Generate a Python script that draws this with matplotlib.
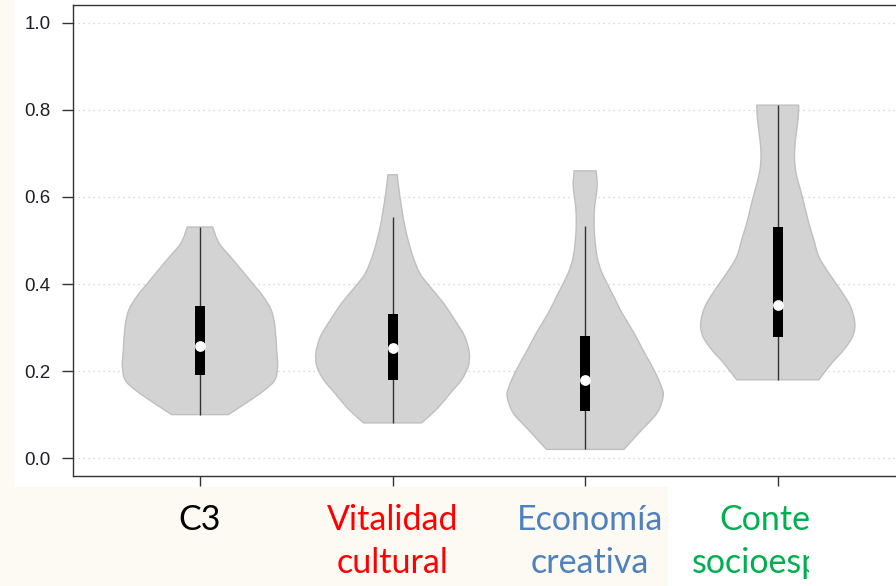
import numpy as np
import matplotlib.pyplot as plt
from matplotlib.patches import Rectangle, PathPatch
from matplotlib.path import Path

# categories and label colours
labels = ["C3", "Vitalidad\ncultural", "Economía\ncreativa", "Contexto\nsocioespacial"]
label_colors = ["#000000", "#ff0000", "#4f81bd", "#00b050"]

# violin outlines: value levels and half widths (in category units)
v1_y = [0.531, 0.494, 0.456, 0.403, 0.372, 0.341, 0.303, 0.249, 0.211, 0.180, 0.157, 0.128, 0.100]
v1_w = [0.066, 0.099, 0.171, 0.270, 0.327, 0.369, 0.389, 0.398, 0.403, 0.389, 0.337, 0.244, 0.147]
v2_y = [0.651, 0.601, 0.532, 0.472, 0.426, 0.395, 0.357, 0.318, 0.280, 0.242, 0.211, 0.180, 0.150, 0.112, 0.081]
v2_w = [0.024, 0.038, 0.064, 0.099, 0.140, 0.192, 0.263, 0.322, 0.374, 0.398, 0.393, 0.358, 0.301, 0.228, 0.150]
v3_y = [0.660, 0.624, 0.570, 0.517, 0.463, 0.425, 0.379, 0.333, 0.288, 0.242, 0.203, 0.165, 0.142, 0.104, 0.066, 0.020]
v3_w = [0.057, 0.062, 0.048, 0.048, 0.062, 0.088, 0.140, 0.192, 0.253, 0.308, 0.357, 0.395, 0.405, 0.374, 0.296, 0.201]
v4_y = [0.811, 0.777, 0.731, 0.693, 0.655, 0.616, 0.578, 0.540, 0.502, 0.463, 0.425, 0.387, 0.349, 0.311, 0.280, 0.249, 0.219, 0.180]
v4_w = [0.109, 0.105, 0.092, 0.087, 0.095, 0.118, 0.140, 0.161, 0.187, 0.213, 0.265, 0.325, 0.377, 0.400, 0.389, 0.343, 0.282, 0.213]
violin_y = [v1_y, v2_y, v3_y, v4_y]
violin_w = [v1_w, v2_w, v3_w, v4_w]

# box summaries
q1 = [0.190, 0.179, 0.108, 0.278]
q3 = [0.350, 0.331, 0.280, 0.532]
medians = [0.258, 0.252, 0.180, 0.351]
whisk_lo = [0.100, 0.081, 0.020, 0.180]
whisk_hi = [0.531, 0.555, 0.534, 0.811]

yticks = [0.0, 0.2, 0.4, 0.6, 0.8, 1.0]


def smooth_side(pts):
    # bezier segments through the given points (catmull-rom style)
    p = np.vstack([pts[0], pts, pts[-1]])
    verts, codes = [], []
    for k in range(1, len(p) - 2):
        c1 = p[k] + (p[k + 1] - p[k - 1]) / 6
        c2 = p[k + 1] - (p[k + 2] - p[k]) / 6
        verts += [c1, c2, p[k + 1]]
        codes += [Path.CURVE4] * 3
    return verts, codes


def violin_path(x, y, w):
    y = np.asarray(y)
    w = np.asarray(w)
    right = np.column_stack([x + w, y])          # top -> bottom
    left = np.column_stack([x - w, y])[::-1]     # bottom -> top
    verts = [right[0]]
    codes = [Path.MOVETO]
    v, c = smooth_side(right)
    verts += v
    codes += c
    verts.append(left[0])
    codes.append(Path.LINETO)
    v, c = smooth_side(left)
    verts += v
    codes += c
    verts.append(right[0])
    codes.append(Path.CLOSEPOLY)
    return Path(verts, codes)


W, H = 896, 586
fig = plt.figure(figsize=(W / 100, H / 100), dpi=100, facecolor="#fcfaf3")
# white panel behind the plot and behind the right part of the labels
fig.patches.append(Rectangle((14 / W, 1 - 487 / H), 1, 487 / H, transform=fig.transFigure,
                             facecolor="white", edgecolor="none", zorder=-2))
fig.patches.append(Rectangle((668 / W, 0), 1, 1 - 487 / H, transform=fig.transFigure,
                             facecolor="white", edgecolor="none", zorder=-2))

ax = fig.add_axes([73 / W, 1 - 476 / H, 1 - 73 / W, 471 / H])
ax.set_facecolor("white")
ax.set_xlim(0.3406, 4.614)
ax.set_ylim(-0.041, 1.041)

for i in range(4):
    x = i + 1
    ax.add_patch(PathPatch(violin_path(x, violin_y[i], violin_w[i]), facecolor="#d3d3d3",
                           edgecolor="#bfbfbf", linewidth=1, zorder=2))
    ax.vlines(x, whisk_lo[i], whisk_hi[i], color="#333333", linewidth=1, zorder=3)
    ax.bar(x, q3[i] - q1[i], bottom=q1[i], width=0.052, color="black", zorder=4)
    ax.scatter([x], [medians[i]], s=60, color="white", zorder=5, linewidths=0)

ax.set_yticks(yticks)
ax.set_yticklabels([f"{t:.1f}" for t in yticks], fontsize=13.5, family="Liberation Sans",
                   color="#1e1e28")
ax.grid(axis="y", linestyle=(0, (1, 3)), color="#cfcfcf", linewidth=0.9, zorder=0)
ax.set_axisbelow(True)
ax.set_xticks([1, 2, 3, 4])
ax.set_xticklabels([])
ax.tick_params(axis="y", length=8, width=1, color="#333333", pad=8)
ax.tick_params(axis="x", length=7.5, width=1, color="#333333")
for s in ["left", "top", "bottom"]:
    ax.spines[s].set_color("#333333")
    ax.spines[s].set_linewidth(1)
ax.spines["right"].set_visible(False)

# category labels under the axis (the last two sit a little right of their ticks)
shift = [0.0, 0.0, 0.026, 0.06]
trans = ax.get_xaxis_transform()
for i, (lab, col) in enumerate(zip(labels, label_colors)):
    for k, line in enumerate(lab.split("\n")):
        ax.text(i + 1 + shift[i], -0.0934 - 0.0913 * k, line, transform=trans, ha="center",
                va="center", fontsize=24.5, family="Lato", color=col, clip_on=False)

# the last label is cut off on the right
fig.patches.append(Rectangle((809 / W, 0), 1, 1 - 487 / H, transform=fig.transFigure,
                             facecolor="white", edgecolor="none", zorder=10))

fig.savefig("out.png", dpi=100, facecolor=fig.get_facecolor())
